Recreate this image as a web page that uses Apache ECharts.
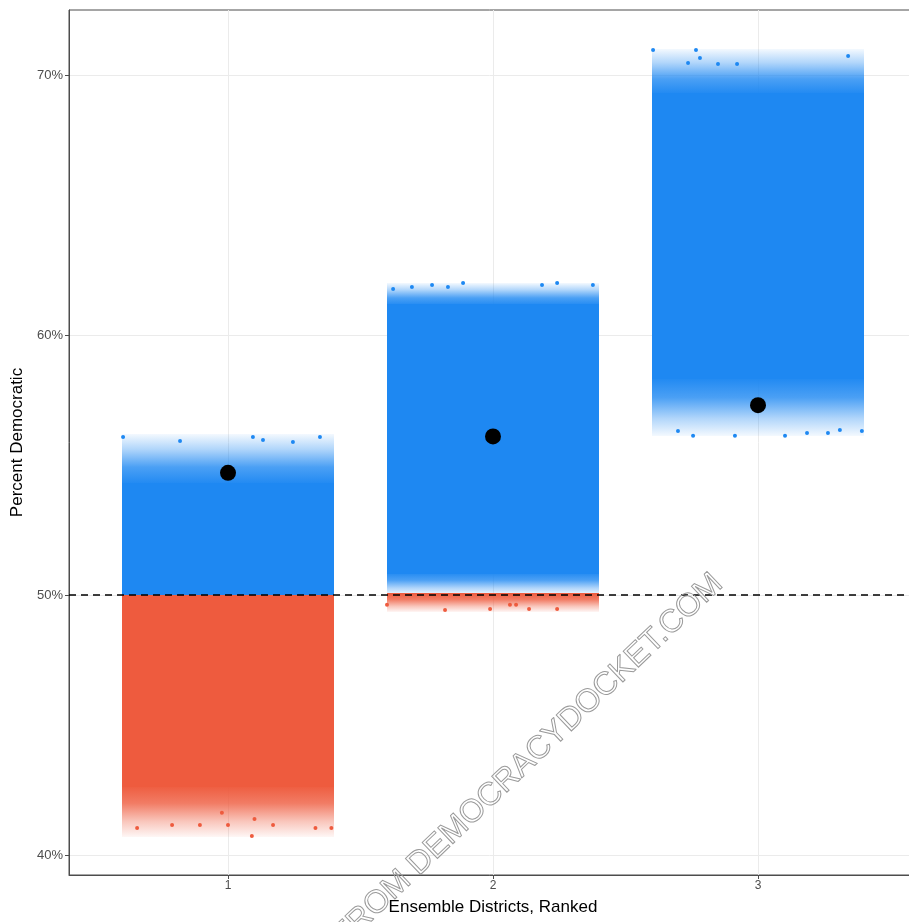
<!DOCTYPE html>
<html>
<head>
<meta charset="utf-8">
<script src="https://cdn.jsdelivr.net/npm/echarts@6/dist/echarts.min.js"></script>
<style>
html,body{margin:0;padding:0;background:#fff;}
#chart{width:909px;height:922px;}
</style>
</head>
<body>
<div id="chart"></div>
<script>
// ---- data (percent Democratic) ----
const districts      = [1, 2, 3];
const jitterHalf     = 0.4;
const blueCoreLow    = [50.0, 50.8, 58.3];
const blueCoreHigh   = [54.3, 61.2, 69.3];
const blueUpperEdge  = [56.2, 62.0, 71.0];
const blueLowerEdge  = [50.0, 50.0, 56.1];
const redCoreLow     = [42.6, 50.0, 50.0];
const redLowerEdge   = [40.7, 49.35, 50.0];
const observedPct    = [54.7, 56.1, 57.3];
const blueOutliers = [
  [0.604, 56.08], [0.819, 55.92], [1.094, 56.08], [1.132, 55.96], [1.245, 55.88], [1.347, 56.08],
  [1.623, 61.77], [1.694, 61.85], [1.770, 61.92], [1.830, 61.85], [1.887, 62.0], [2.185, 61.92], [2.242, 62.0], [2.377, 61.92],
  [2.604, 70.96], [2.736, 70.46], [2.766, 70.96], [2.781, 70.65], [2.849, 70.42], [2.921, 70.42], [3.34, 70.73],
  [2.698, 56.31], [2.755, 56.12], [2.913, 56.12], [3.102, 56.12], [3.185, 56.23], [3.264, 56.23], [3.309, 56.35], [3.392, 56.31]
];
const redOutliers = [
  [0.657, 41.04], [0.789, 41.15], [0.894, 41.15], [0.977, 41.62], [1.0, 41.15], [1.09, 40.73], [1.10, 41.38], [1.17, 41.15], [1.33, 41.04], [1.39, 41.04],
  [1.6, 49.62], [1.819, 49.42], [1.989, 49.46], [2.064, 49.62], [2.087, 49.62], [2.136, 49.46], [2.242, 49.46]
];
const yTicks = [40, 50, 60, 70];
const xTicks = [1, 2, 3];

const BLUE = '#1E88F2';
const RED = '#EE5B3E';

function rgba(hex, a) {
  const n = parseInt(hex.slice(1), 16);
  return 'rgba(' + ((n >> 16) & 255) + ',' + ((n >> 8) & 255) + ',' + (n & 255) + ',' + a + ')';
}

// items: [x, low, high, fadeDir]  fadeDir: 0 solid, 1 fade upward, -1 fade downward
function bandItems(lows, highs, dir) {
  return districts.map((d, i) => [d, lows[i], highs[i], dir]);
}

function makeRender(color) {
  return function (params, api) {
    const x = api.value(0), lo = api.value(1), hi = api.value(2), dir = api.value(3);
    if (hi - lo <= 0) return null;
    const p1 = api.coord([x - jitterHalf, hi]);
    const p2 = api.coord([x + jitterHalf, lo]);
    let x0 = Math.round(p1[0]), x1 = Math.round(p2[0]);
    let y0 = Math.round(p1[1]), y1 = Math.round(p2[1]);
    let fill = color;
    if (dir !== 0) {
      // overlap the solid core by a pixel to avoid a seam
      if (dir > 0) y1 += 2; else y0 -= 2;
      const stops = [
        { offset: 0, color: rgba(color, 1) },
        { offset: 0.35, color: rgba(color, 0.8) },
        { offset: 0.7, color: rgba(color, 0.35) },
        { offset: 1, color: rgba(color, 0.05) }
      ];
      fill = {
        type: 'linear', x: 0, y: dir > 0 ? 1 : 0, x2: 0, y2: dir > 0 ? 0 : 1,
        colorStops: stops, global: false
      };
    }
    return {
      type: 'rect',
      shape: { x: x0, y: y0, width: x1 - x0, height: y1 - y0 },
      style: { fill: fill }
    };
  };
}

const chart = echarts.init(document.getElementById('chart'), null, { renderer: 'canvas' });
const FONT = '"Liberation Sans", Arial, Helvetica, sans-serif';

chart.setOption({
  animation: false,
  backgroundColor: '#fff',
  grid: { left: 69, top: 10, right: -8, bottom: 47, containLabel: false, outerBoundsMode: 'none',
    show: true, borderColor: '#4d4d4d', borderWidth: 1, backgroundColor: 'transparent' },
  xAxis: {
    type: 'value', min: 0.4, max: 3.6,
    name: 'Ensemble Districts, Ranked', nameLocation: 'middle', nameGap: 24,
    nameTextStyle: { color: '#000', fontSize: 17, fontFamily: FONT },
    axisLine: { show: true, lineStyle: { color: '#4d4d4d', width: 1 } },
    axisTick: { show: true, length: 4, lineStyle: { color: '#4d4d4d' }, customValues: xTicks },
    axisLabel: { customValues: xTicks, color: '#4d4d4d', fontSize: 12, fontFamily: FONT, margin: 5 },
    splitLine: { show: true, lineStyle: { color: '#ebebeb', width: 1 } }
  },
  yAxis: {
    type: 'value', min: 39.23, max: 72.5,
    name: 'Percent Democratic', nameLocation: 'middle', nameGap: 41, nameRotate: 90,
    nameTextStyle: { color: '#000', fontSize: 17, fontFamily: FONT },
    axisLine: { show: true, lineStyle: { color: '#4d4d4d', width: 1 } },
    axisTick: { show: true, length: 4, lineStyle: { color: '#4d4d4d' }, customValues: yTicks },
    axisLabel: { customValues: yTicks, color: '#4d4d4d', fontSize: 13, fontFamily: FONT, margin: 6,
      formatter: v => Math.round(v) + '%' },
    splitLine: { show: true, lineStyle: { color: '#ebebeb', width: 1 } }
  },
  series: [
    { type: 'custom', name: 'blue upper', renderItem: makeRender(BLUE), clip: true,
      data: bandItems(blueCoreHigh, blueUpperEdge, 1), z: 3 },
    { type: 'custom', name: 'blue lower', renderItem: makeRender(BLUE), clip: true,
      data: bandItems(blueLowerEdge, blueCoreLow, -1), z: 3 },
    { type: 'custom', name: 'red lower', renderItem: makeRender(RED), clip: true,
      data: bandItems(redLowerEdge, redCoreLow, -1), z: 3 },
    { type: 'custom', name: 'blue core', renderItem: makeRender(BLUE), clip: true,
      data: bandItems(blueCoreLow, blueCoreHigh, 0), z: 3 },
    { type: 'custom', name: 'red core', renderItem: makeRender(RED), clip: true,
      data: bandItems(redCoreLow, districts.map(() => 50), 0), z: 3 },
    { type: 'scatter', name: 'blue outliers', data: blueOutliers, symbolSize: 4,
      itemStyle: { color: BLUE, opacity: 1 }, z: 4 },
    { type: 'scatter', name: 'red outliers', data: redOutliers, symbolSize: 4,
      itemStyle: { color: RED, opacity: 1 }, z: 4,
      markLine: {
        silent: true, symbol: ['none', 'none'], label: { show: false },
        lineStyle: { color: '#000', type: [7, 5], width: 1.6, opacity: 1 },
        data: [{ yAxis: 50 }]
      } },
    { type: 'scatter', name: 'observed', data: districts.map((d, i) => [d, observedPct[i]]),
      symbolSize: 16, itemStyle: { color: '#000', opacity: 1 }, z: 6 }
  ],
  graphic: [
    {
      type: 'text', x: 528, y: 760, rotation: 0.761, z: 100,
      style: {
        text: 'FROM DEMOCRACYDOCKET.COM', fontSize: 32, fontFamily: FONT,
        fill: 'rgba(255,255,255,0)', stroke: '#9a9a9a', lineWidth: 1,
        align: 'center', verticalAlign: 'middle'
      }
    }
  ]
});
</script>
</body>
</html>
